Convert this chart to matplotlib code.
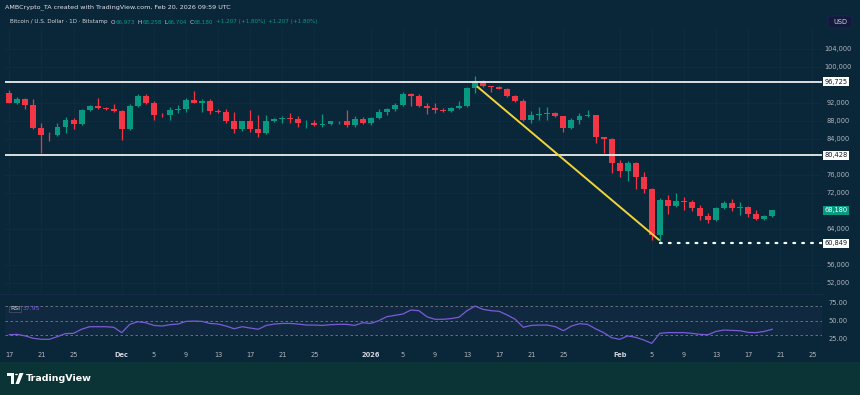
import numpy as np
import pandas as pd
import matplotlib
matplotlib.use("Agg")
import matplotlib.pyplot as plt
import matplotlib.dates as mdates
import matplotlib.transforms as mtrans
from matplotlib.patches import Rectangle, Polygon, Circle, FancyBboxPatch

# ---------------- data ----------------
dates = pd.date_range("2025-11-17", "2026-02-20", freq="D")

opens = [94280, 92050, 92940, 91480, 86430, 84940, 84800, 86720, 88210, 87320,
         90430, 91320, 90870, 90720, 90280, 86140, 91320, 93540, 92050, 89390,
         89250, 90430, 90580, 92660, 92050, 92500, 90140, 90050, 88050, 86280,
         87920, 86140, 85390, 88050, 88360, 88650, 88500, 87470, 87620, 87160,
         87320, 87920, 88000, 87160, 88360, 87470, 88650, 89990, 90580, 91610,
         93990, 93540, 91320, 90870, 90430, 90280, 90870, 91320, 95320, 96950,
         95760, 95610, 95170, 93540, 92500, 88210, 89390, 89540, 89690, 89100,
         86430, 88210, 89100, 89250, 84400, 84050, 78585, 76800, 78585, 75610,
         72800, 62650, 70430, 69090, 70140, 69990, 68650, 66870, 65980, 68650,
         69830, 68650, 68800, 67320, 66140, 66973]
highs = [94900, 93300, 93200, 92810, 87480, 85540, 87480, 88940, 88650, 90720,
         91620, 93100, 91100, 91770, 90430, 91800, 93990, 94100, 92500, 89800,
         91030, 91500, 93100, 94590, 92800, 92800, 90720, 90590, 89990, 88100,
         90430, 89390, 89400, 88600, 89100, 89700, 89100, 88200, 88200, 89540,
         88000, 88100, 90430, 89100, 88900, 88900, 90600, 90800, 91900, 94500,
         94300, 93900, 91920, 91920, 90800, 91100, 92500, 95600, 97990, 97100,
         95800, 95800, 95400, 93700, 92800, 90280, 91170, 91200, 89900, 89100,
         88600, 89700, 90430, 89400, 84500, 84200, 79320, 79160, 78870, 76650,
         73200, 70800, 71470, 72050, 71160, 70430, 69380, 67600, 68800, 70100,
         70720, 69990, 69200, 68300, 67200, 68258]
lows = [91900, 91700, 90590, 86140, 80810, 83610, 84600, 85250, 86140, 87030,
        90140, 90580, 90500, 89990, 83770, 86000, 91000, 91700, 88210, 88900,
        88210, 89800, 90000, 91900, 90000, 89500, 89840, 87610, 85250, 85700,
        85540, 84500, 85100, 87800, 87610, 87610, 86590, 86430, 86900, 86600,
        87100, 87300, 86600, 86600, 87300, 87200, 88400, 89300, 90300, 91300,
        91320, 91100, 89540, 89700, 90100, 90000, 90590, 91000, 94280, 95480,
        94430, 95000, 93400, 92200, 87900, 87470, 88210, 88300, 88800, 85540,
        86200, 87320, 88810, 83170, 80940, 76360, 75610, 74720, 72800, 71920,
        61540, 60849, 67320, 68800, 68200, 67920, 65980, 65250, 65800, 68500,
        67920, 67160, 66700, 65900, 65900, 66704]
closes = [92050, 92940, 91480, 86430, 84940, 84800, 86720, 88210, 87320, 90430,
          91320, 90870, 90720, 90280, 86140, 91320, 93540, 92050, 89390, 89250,
          90430, 90580, 92660, 92050, 92500, 90140, 90050, 88050, 86280, 87920,
          86140, 85390, 88050, 88360, 88650, 88500, 87470, 87620, 87160, 87320,
          87920, 88000, 87160, 88360, 87470, 88650, 89990, 90580, 91610, 93990,
          93540, 91320, 90870, 90430, 90280, 90870, 91320, 95320, 96950, 95760,
          95610, 95170, 93540, 92500, 88210, 89390, 89540, 89690, 89100, 86430,
          88210, 89100, 89250, 84360, 84050, 78585, 76800, 78585, 75610, 72800,
          62650, 70430, 69090, 70140, 69990, 68650, 66870, 65980, 68650, 69830,
          68650, 68800, 67320, 66140, 66973, 68180]
rsi = [30.3, 30.8, 28.6, 25.3, 23.9, 23.9, 27.7, 31.9, 32.3, 38.0,
       41.6, 41.6, 41.6, 40.8, 33.3, 44.9, 48.6, 47.2, 43.4, 42.5,
       44.4, 45.3, 49.0, 49.5, 49.0, 46.2, 45.3, 42.5, 38.7, 41.6,
       39.7, 38.0, 43.4, 45.3, 46.2, 46.2, 45.3, 43.9, 43.9, 43.4,
       44.4, 44.9, 44.9, 43.4, 47.2, 46.2, 50.0, 55.6, 57.5, 59.4,
       65.0, 64.1, 55.6, 52.0, 52.0, 53.0, 54.9, 64.1, 70.6, 65.9,
       64.1, 63.2, 58.0, 52.0, 40.8, 43.4, 43.9, 43.9, 41.6, 36.0,
       42.5, 45.8, 44.9, 38.7, 33.3, 26.2, 23.9, 28.6, 26.7, 23.0,
       18.2, 32.3, 33.3, 33.3, 33.3, 32.3, 30.8, 30.3, 35.0, 36.9,
       36.4, 36.0, 33.6, 33.3, 35.0, 37.95]

level_prices = [96725, 80428]
support_price = 60849
support_start = "2026-02-06"
trend_x = ["2026-01-14 07:00", "2026-02-05 22:00"]
trend_y = [95610, 61540]

price_ticks = [104000, 100000, 92000, 88000, 84000, 76000, 72000, 64000, 56000, 52000]
rsi_ticks = [75, 50, 25]
rsi_bands = [70, 50, 30]

date_tick_dates = ["2025-11-17", "2025-11-21", "2025-11-25", "2025-12-01", "2025-12-05",
                   "2025-12-09", "2025-12-13", "2025-12-17", "2025-12-21", "2025-12-25",
                   "2026-01-01", "2026-01-05", "2026-01-09", "2026-01-13", "2026-01-17",
                   "2026-01-21", "2026-01-25", "2026-02-01", "2026-02-05", "2026-02-09",
                   "2026-02-13", "2026-02-17", "2026-02-21", "2026-02-25"]
date_tick_labels = ["17", "21", "25", "Dec", "5", "9", "13", "17", "21", "25",
                    "2026", "5", "9", "13", "17", "21", "25", "Feb", "5", "9",
                    "13", "17", "21", "25"]

# ---------------- style ----------------
W, H = 860, 395
BG = "#0a2739"
BOTTOM = "#0b3437"
UP = "#089981"
DOWN = "#f23645"
TXT = "#b2b5be"
GRID = "#0f2e43"

def fx(px):
    return px / W

def fy(py):
    return 1 - py / H

fig = plt.figure(figsize=(8.6, 3.95), dpi=100)
fig.patch.set_facecolor(BG)
renderer = fig.canvas.get_renderer()

# bottom branding strip
fig.add_artist(Rectangle((0, 0), 1, fy(362), transform=fig.transFigure,
                         facecolor=BOTTOM, edgecolor="none", zorder=0))

x = mdates.date2num(dates)
x_left = x[0] - 0.535
x_right = x[0] + 101.2

# ---------------- main pane ----------------
ax = fig.add_axes([fx(5), fy(293), fx(822) - fx(5), fy(28) - fy(293)])
ax.set_facecolor("none")
ax.set_xlim(x_left, x_right)
ax.set_ylim(49753, 108663)
for s in ax.spines.values():
    s.set_visible(False)
ax.set_xticks([])
ax.set_yticks([])

# grid
for p in price_ticks:
    ax.axhline(p, color=GRID, lw=0.6, zorder=1)
tick_x = mdates.date2num(pd.to_datetime(date_tick_dates))
for t in tick_x:
    ax.axvline(t, color=GRID, lw=0.6, zorder=1)

o = np.array(opens, float)
h = np.array(highs, float)
l = np.array(lows, float)
c = np.array(closes, float)
up = c >= o
cols = np.where(up, UP, DOWN)
ax.vlines(x, l, h, colors=cols, lw=0.9, zorder=3)
body_bottom = np.minimum(o, c)
body_h = np.maximum(np.abs(c - o), 150)
ax.bar(x, body_h, bottom=body_bottom, width=0.74, color=cols,
       edgecolor="none", zorder=4)

# levels
for p in level_prices:
    ax.axhline(p, color="#eeeeee", lw=1.3, zorder=5)
sx = mdates.date2num(pd.Timestamp(support_start))
ax.plot([sx, x_right], [support_price, support_price], color="#ffffff",
        lw=1.6, linestyle=(0, (0.8, 3.2)), dash_capstyle="round", zorder=5)

# trend line
tx = mdates.date2num(pd.to_datetime(trend_x))
ax.plot(tx, trend_y, color="#f0d43a", lw=1.4, zorder=6, solid_capstyle="round")

# price axis labels
blend = mtrans.blended_transform_factory(fig.transFigure, ax.transData)
for p in price_ticks:
    ax.text(fx(838), p, f"{p:,}", transform=blend, ha="center", va="center",
            fontsize=4.8, color=TXT, clip_on=False)

ppx = (108663 - 49753) / (293 - 28)  # price per pixel

def price_box(p, fc, tc):
    ax.add_patch(Rectangle((fx(823), p - 4.5 * ppx), fx(849) - fx(823), 9 * ppx,
                           transform=blend, facecolor=fc, edgecolor="none",
                           clip_on=False, zorder=7))
    ax.text(fx(836), p, f"{p:,}", transform=blend, ha="center", va="center",
            fontsize=4.8, color=tc, clip_on=False, zorder=8)

for p in level_prices:
    price_box(p, "#ffffff", "#131722")
price_box(support_price, "#ffffff", "#131722")
price_box(closes[-1], UP, "#ffffff")

# USD box
fig.add_artist(FancyBboxPatch((fx(828), fy(28)), fx(852) - fx(828), fy(16) - fy(28),
                              boxstyle="round,pad=0,rounding_size=0.004",
                              transform=fig.transFigure, facecolor="#141a3c",
                              edgecolor="#1e2550", lw=0.5))
fig.text(fx(840), fy(22), "USD", ha="center", va="center", fontsize=4.8, color="#d1d4dc")

# ---------------- RSI pane ----------------
ax2 = fig.add_axes([fx(5), fy(346), fx(822) - fx(5), fy(295) - fy(346)])
ax2.set_facecolor("none")
ax2.set_xlim(x_left, x_right)
ax2.set_ylim(14.5, 86.1)
for s in ax2.spines.values():
    s.set_visible(False)
ax2.set_xticks([])
ax2.set_yticks([])
ax2.axhspan(rsi_bands[2], rsi_bands[0], color="#7e57c2", alpha=0.06, lw=0)
for b in rsi_bands:
    ax2.axhline(b, color="#787b86", lw=0.6, linestyle=(0, (3, 3)))
ax2.plot(x, rsi, color="#7b5bd6", lw=0.9, zorder=4)
blend2 = mtrans.blended_transform_factory(fig.transFigure, ax2.transData)
for r in rsi_ticks:
    ax2.text(fx(838), r, f"{r:.2f}", transform=blend2, ha="center", va="center",
             fontsize=4.8, color=TXT, clip_on=False)
fig.text(fx(10), fy(309), "RSI", ha="left", va="center", fontsize=4.4, color="#d1d4dc",
         bbox=dict(boxstyle="square,pad=0.15", fc="none", ec="#5d606b", lw=0.4))
fig.text(fx(23), fy(309), f"{rsi[-1]:.2f}", ha="left", va="center", fontsize=4.4,
         color="#7b5bd6")

# separator between panes
fig.add_artist(plt.Line2D([0, fx(822)], [fy(294), fy(294)], transform=fig.transFigure,
                          color="#1b2a4a", lw=0.6))

# ---------------- date axis ----------------
blend3 = mtrans.blended_transform_factory(ax.transData, fig.transFigure)
for t, lab in zip(tick_x, date_tick_labels):
    bold = lab in ("Dec", "2026", "Feb")
    ax.text(t, fy(355), lab, transform=blend3, ha="center", va="center",
            fontsize=4.8, color="#d1d4dc" if bold else TXT,
            fontweight="bold" if bold else "normal", clip_on=False)

# ---------------- header ----------------
fig.text(fx(5), fy(7), "AMBCrypto_TA created with TradingView.com, Feb 20, 2026 09:59 UTC",
         ha="left", va="center", fontsize=4.6, color="#e0e3eb")

chg = closes[-1] - closes[-2]
pct = chg / closes[-2] * 100
chg_txt = f"+{chg:,} (+{pct:.2f}%)"
header_items = [
    ("Bitcoin / U.S. Dollar · 1D · Bitstamp", "#d1d4dc", 3.5),
    ("O", "#d1d4dc", 0.4), (f"{opens[-1]:,}", UP, 2.5),
    ("H", "#d1d4dc", 0.4), (f"{highs[-1]:,}", UP, 2.5),
    ("L", "#d1d4dc", 0.4), (f"{lows[-1]:,}", UP, 2.5),
    ("C", "#d1d4dc", 0.4), (f"{closes[-1]:,}", UP, 2.5),
    (chg_txt, UP, 2.5), (chg_txt, UP, 2.5),
]
xpos = 10.0
for s, col, gap in header_items:
    t = fig.text(fx(xpos), fy(22), s, ha="left", va="center", fontsize=4.1, color=col)
    bb = t.get_window_extent(renderer)
    xpos += bb.width + gap

# ---------------- TradingView branding ----------------
tf = fig.transFigure
fig.add_artist(Polygon([(fx(7), fy(373)), (fx(14), fy(373)), (fx(14), fy(384)),
                        (fx(11), fy(384)), (fx(11), fy(376)), (fx(7), fy(376))],
                       closed=True, transform=tf, facecolor="#ffffff", edgecolor="none"))
fig.add_artist(Circle((fx(16.5), fy(374.5)), 1.5 / W, transform=tf, facecolor="#ffffff",
                      edgecolor="none"))
fig.add_artist(Polygon([(fx(19.5), fy(373)), (fx(23.5), fy(373)), (fx(19), fy(384)),
                        (fx(15.5), fy(384))], closed=True, transform=tf,
                       facecolor="#ffffff", edgecolor="none"))
fig.text(fx(26), fy(378.5), "TradingView", ha="left", va="center", fontsize=6.8,
         color="#ffffff", fontweight="semibold")

fig.savefig("out.png", dpi=100, facecolor=fig.get_facecolor())
